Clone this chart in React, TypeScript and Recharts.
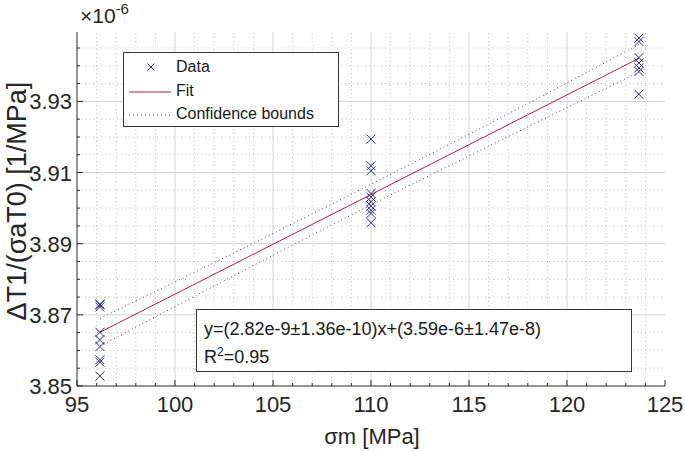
import { ComposedChart, XAxis, YAxis, Scatter, Line, ReferenceLine } from 'recharts';

// measured values, y in units of 1e-6 1/MPa
const stressLevels = [96.17, 110.0, 123.67];
const ratioAt96 = [3.873, 3.8728, 3.8722, 3.8651, 3.863, 3.8611, 3.8574, 3.8567, 3.8528];
const ratioAt110 = [3.9194, 3.9119, 3.9105, 3.9041, 3.9031, 3.9018, 3.9006, 3.8994, 3.8985, 3.8959];
const ratioAt124 = [3.9478, 3.9468, 3.9423, 3.9408, 3.9394, 3.9384, 3.932];

const fitX = [96.17, 123.67];
const fitY = [3.8651, 3.9421];

const boundX = [96.17, 103, 110, 117, 123.67];
const upperBound = [3.869, 3.8874, 3.9067, 3.9265, 3.946];
const lowerBound = [3.8612, 3.881, 3.9009, 3.9201, 3.9382];

const xTicks = [95, 96, 97, 98, 99, 100, 101, 102, 103, 104, 105, 106, 107, 108, 109, 110, 111, 112, 113, 114, 115, 116, 117, 118, 119, 120, 121, 122, 123, 124, 125];
const xMajor = [95, 100, 105, 110, 115, 120, 125];
const yTicks = [3.85, 3.855, 3.86, 3.865, 3.87, 3.875, 3.88, 3.885, 3.89, 3.895, 3.9, 3.905, 3.91, 3.915, 3.92, 3.925, 3.93, 3.935, 3.94, 3.945];
const yMajor = [3.85, 3.87, 3.89, 3.91, 3.93];

const FONT = '"Liberation Sans", Arial, Helvetica, sans-serif';
const AXIS = '#2b2b2b';
const MARK = '#30308c';
const FIT = '#a82a40';
const BOUND = '#7a3a4a';

const isIn = (list: number[], v: number) => list.some((m) => Math.abs(m - v) < 1e-9);

const scatterData = [
  ...ratioAt96.map((y) => ({ x: stressLevels[0], y })),
  ...ratioAt110.map((y) => ({ x: stressLevels[1], y })),
  ...ratioAt124.map((y) => ({ x: stressLevels[2], y })),
];
const fitData = fitX.map((x, i) => ({ x, y: fitY[i] }));
const upperData = boundX.map((x, i) => ({ x, y: upperBound[i] }));
const lowerData = boundX.map((x, i) => ({ x, y: lowerBound[i] }));

function Cross({ cx, cy, arm = 4 }: { cx?: number; cy?: number; arm?: number }) {
  if (cx == null || cy == null) return null;
  return (
    <path
      d={`M${cx - arm},${cy - arm}L${cx + arm},${cy + arm}M${cx - arm},${cy + arm}L${cx + arm},${cy - arm}`}
      stroke={MARK}
      strokeWidth={1}
      fill="none"
    />
  );
}

function BottomTick({ x, y, payload }: any) {
  const major = isIn(xMajor, payload.value);
  return (
    <g>
      <line x1={x} x2={x} y1={y} y2={y - (major ? 6 : 3)} stroke={AXIS} />
      {major && (
        <text x={x} y={y + 26} textAnchor="middle" fontSize={22} fontFamily={FONT} fill="#262626">
          {payload.value}
        </text>
      )}
    </g>
  );
}

function TopTick({ x, y, payload }: any) {
  const major = isIn(xMajor, payload.value);
  return <line x1={x} x2={x} y1={y} y2={y + (major ? 6 : 3)} stroke={AXIS} />;
}

function LeftTick({ x, y, payload }: any) {
  const major = isIn(yMajor, payload.value);
  return (
    <g>
      <line x1={x} x2={x + (major ? 6 : 3)} y1={y} y2={y} stroke={AXIS} />
      {major && (
        <text x={x - 5} y={y + 8} textAnchor="end" fontSize={22} fontFamily={FONT} fill="#262626">
          {payload.value.toFixed(2)}
        </text>
      )}
    </g>
  );
}

function RightTick({ x, y, payload }: any) {
  const major = isIn(yMajor, payload.value);
  return <line x1={x} x2={x - (major ? 6 : 3)} y1={y} y2={y} stroke={AXIS} />;
}

export default function App() {
  const gridMajor = '#d4d4d4';
  const gridMinor = '#c4c4c4';
  return (
    <div style={{ position: 'absolute', left: 0, top: 0, width: 685, height: 451, background: '#fff', fontFamily: FONT }}>
      <ComposedChart width={685} height={451} margin={{ top: 32, right: 20, bottom: 35, left: 0 }}>
        <XAxis
          dataKey="x"
          type="number"
          domain={[95, 125]}
          ticks={xTicks}
          interval={0}
          allowDataOverflow
          height={30}
          tickSize={0}
          tickMargin={0}
          tickLine={false}
          axisLine={{ stroke: AXIS }}
          tick={<BottomTick />}
        />
        <XAxis
          xAxisId="top"
          orientation="top"
          type="number"
          domain={[95, 125]}
          ticks={xTicks}
          interval={0}
          allowDataOverflow
          height={0}
          tickSize={0}
          tickMargin={0}
          tickLine={false}
          axisLine={{ stroke: AXIS }}
          tick={<TopTick />}
        />
        <YAxis
          dataKey="y"
          type="number"
          domain={[3.85, 3.9495]}
          ticks={yTicks}
          interval={0}
          allowDataOverflow
          width={77}
          tickSize={0}
          tickMargin={0}
          tickLine={false}
          axisLine={{ stroke: AXIS }}
          tick={<LeftTick />}
        />
        <YAxis
          yAxisId="right"
          orientation="right"
          type="number"
          domain={[3.85, 3.9495]}
          ticks={yTicks}
          interval={0}
          allowDataOverflow
          width={0}
          tickSize={0}
          tickMargin={0}
          tickLine={false}
          axisLine={{ stroke: AXIS }}
          tick={<RightTick />}
        />

        {xTicks
          .filter((v) => v > 95 && v < 125)
          .map((v) =>
            isIn(xMajor, v) ? (
              <ReferenceLine key={`vx${v}`} x={v} stroke={gridMajor} strokeWidth={1} />
            ) : (
              <ReferenceLine key={`vx${v}`} x={v} stroke={gridMinor} strokeWidth={1} strokeDasharray="1 3" />
            )
          )}
        {yTicks
          .filter((v) => v > 3.85)
          .map((v) =>
            isIn(yMajor, v) ? (
              <ReferenceLine key={`hy${v}`} y={v} stroke={gridMajor} strokeWidth={1} />
            ) : (
              <ReferenceLine key={`hy${v}`} y={v} stroke={gridMinor} strokeWidth={1} strokeDasharray="1 3" />
            )
          )}

        <Line data={upperData} dataKey="y" type="monotone" stroke={BOUND} strokeWidth={1} strokeDasharray="1 3" dot={false} isAnimationActive={false} />
        <Line data={lowerData} dataKey="y" type="monotone" stroke={BOUND} strokeWidth={1} strokeDasharray="1 3" dot={false} isAnimationActive={false} />
        <Line data={fitData} dataKey="y" type="linear" stroke={FIT} strokeWidth={1} dot={false} isAnimationActive={false} />
        <Scatter
          data={scatterData}
          dataKey="y"
          shape={(p: any) => <Cross cx={p.cx} cy={p.cy} arm={4.5} />}
          isAnimationActive={false}
        />
      </ComposedChart>

      {/* exponent label */}
      <div style={{ position: 'absolute', left: 80, top: 4, fontSize: 21, color: '#262626', whiteSpace: 'nowrap' }}>
        <span style={{ fontWeight: 300 }}>×</span>10
        <span style={{ fontSize: 15, position: 'relative', top: -9 }}>-6</span>
      </div>

      {/* axis titles */}
      <div
        style={{
          position: 'absolute',
          left: 17,
          top: 201,
          transform: 'translate(-50%, -50%) rotate(-90deg)',
          fontSize: 27,
          color: '#262626',
          whiteSpace: 'nowrap',
        }}
      >
        ΔT1/(σaT0) [1/MPa]
      </div>
      <div
        style={{
          position: 'absolute',
          left: 372,
          top: 437,
          transform: 'translate(-50%, -50%)',
          fontSize: 22,
          color: '#262626',
          whiteSpace: 'nowrap',
        }}
      >
        σm [MPa]
      </div>

      {/* legend */}
      <div
        style={{
          position: 'absolute',
          left: 123,
          top: 52,
          width: 214,
          height: 73,
          border: '1px solid #333',
          background: '#fff',
          fontSize: 16,
          color: '#1a1a1a',
        }}
      >
        <svg width={52} height={73} style={{ position: 'absolute', left: 0, top: 0 }}>
          <Cross cx={27} cy={14} arm={3.5} />
          <line x1={5} x2={47} y1={39} y2={39} stroke={FIT} strokeWidth={1} />
          <line x1={5} x2={47} y1={62} y2={62} stroke={BOUND} strokeWidth={1} strokeDasharray="1 3" />
        </svg>
        <div style={{ position: 'absolute', left: 52, top: 4, lineHeight: '20px' }}>Data</div>
        <div style={{ position: 'absolute', left: 52, top: 28, lineHeight: '20px' }}>Fit</div>
        <div style={{ position: 'absolute', left: 52, top: 51, lineHeight: '20px', whiteSpace: 'nowrap' }}>Confidence bounds</div>
      </div>

      {/* fit equation */}
      <div
        style={{
          position: 'absolute',
          left: 196,
          top: 309,
          width: 434,
          height: 61,
          border: '1px solid #333',
          background: '#fff',
          fontSize: 18,
          color: '#1a1a1a',
        }}
      >
        <div style={{ position: 'absolute', left: 7, top: 8, lineHeight: '22px', whiteSpace: 'nowrap' }}>
          y=(2.82e-9±1.36e-10)x+(3.59e-6±1.47e-8)
        </div>
        <div style={{ position: 'absolute', left: 7, top: 36, lineHeight: '22px', whiteSpace: 'nowrap' }}>
          R<span style={{ fontSize: 12, position: 'relative', top: -7 }}>2</span>=0.95
        </div>
      </div>
    </div>
  );
}
